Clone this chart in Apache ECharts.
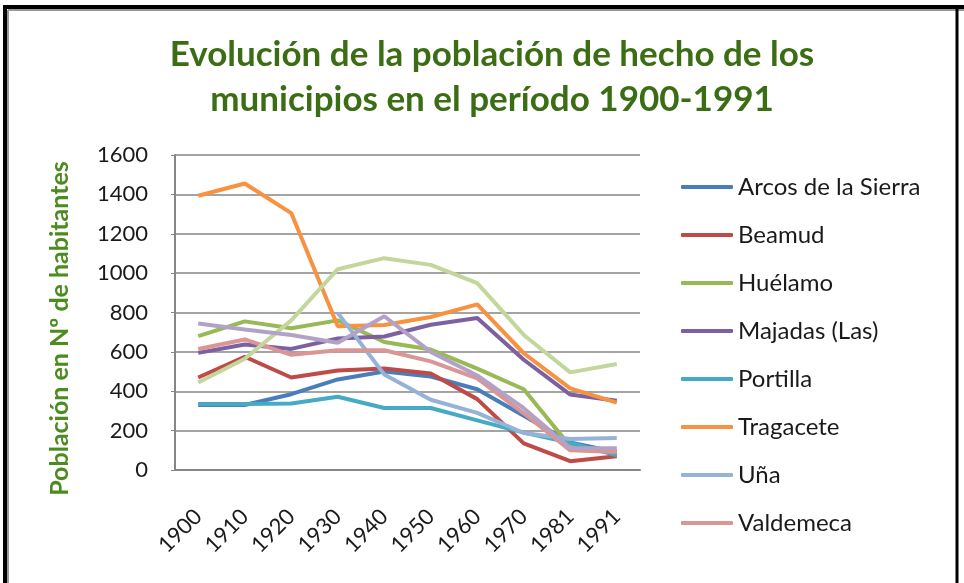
<!DOCTYPE html>
<html>
<head>
<meta charset="utf-8">
<script src="https://cdn.jsdelivr.net/npm/echarts@6.0.0/dist/echarts.min.js"></script>
<style>
  html, body { margin: 0; padding: 0; background: #fff; }
  #chart { width: 964px; height: 583px; }
</style>
</head>
<body>
<div id="chart"></div>
<script>
// años del censo
const years = ['1900', '1910', '1920', '1930', '1940', '1950', '1960', '1970', '1981', '1991'];
const yTicks = [0, 200, 400, 600, 800, 1000, 1200, 1400, 1600];

// población de hecho por municipio
const arcos     = [330, 330, 385, 460, 500, 475, 410, 275, 140, 90];
const beamud    = [470, 575, 470, 505, 515, 490, 360, 135, 45, 70];
const huelamo   = [680, 755, 720, 760, 650, 612, 515, 410, 120, 95];
const majadas   = [595, 637, 615, 668, 678, 738, 772, 560, 383, 352];
const portilla  = [335, 335, 338, 372, 315, 315, 252, 190, 138, 75];
const tragacete = [1393, 1455, 1305, 730, 737, 777, 841, 593, 415, 342];
const una       = [null, null, null, 798, 485, 357, 290, 188, 157, 162];
const valdemeca = [615, 663, 585, 608, 608, 552, 465, 288, 100, 92];
// dos series más que no caben en la leyenda
const serie9    = [444, 565, 760, 1020, 1076, 1042, 949, 686, 496, 538];
const serie10   = [744, 714, 686, 646, 781, 600, 480, 314, 112, 110];

const names = ['Arcos de la Sierra', 'Beamud', 'Huélamo', 'Majadas (Las)', 'Portilla',
               'Tragacete', 'Uña', 'Valdemeca', 'Serie 9', 'Serie 10'];
const values = [arcos, beamud, huelamo, majadas, portilla, tragacete, una, valdemeca, serie9, serie10];
const colors = ['#4A7EBB', '#BE4B48', '#98B954', '#7D60A0', '#46AAC5',
                '#F69240', '#95B3D7', '#D99694', '#C3D69B', '#B3A2C7'];

const font = 'Lato, "Open Sans", sans-serif';
const chart = echarts.init(document.getElementById('chart'));

chart.setOption({
  animation: false,
  color: colors,
  title: {
    text: 'Evolución de la población de hecho de los\nmunicipios en el período 1900-1991',
    left: 487,
    textAlign: 'center',
    top: 27,
    textStyle: { fontFamily: font, fontSize: 35, fontWeight: 'bold', color: '#3B6E14', lineHeight: 45 }
  },
  legend: {
    data: names.slice(0, 8),
    orient: 'vertical',
    left: 681,
    top: 175,
    padding: 0,
    icon: 'roundRect',
    itemWidth: 52,
    itemHeight: 4,
    itemGap: 24,
    textStyle: { fontFamily: font, fontSize: 24, color: '#1a1a1a', lineHeight: 24 }
  },
  grid: { left: 175, right: 324, top: 155, bottom: 113, containLabel: false },
  xAxis: {
    type: 'category',
    data: years,
    boundaryGap: true,
    axisLine: { lineStyle: { color: '#868686', width: 2 } },
    axisTick: { show: false },
    axisLabel: { rotate: 45, margin: 43, fontFamily: font, fontSize: 22, color: '#1a1a1a' }
  },
  yAxis: {
    type: 'value',
    min: yTicks[0],
    max: yTicks[yTicks.length - 1],
    interval: 200,
    name: 'Población en Nº de habitantes',
    nameLocation: 'middle',
    nameRotate: 90,
    nameGap: 103,
    nameTextStyle: { fontFamily: font, fontSize: 25, fontWeight: 'bold', color: '#4C8C1F', padding: [0, 32, 0, 0] },
    axisLine: { show: true, lineStyle: { color: '#868686', width: 2 } },
    axisTick: { show: true, length: 4, lineStyle: { color: '#868686' } },
    axisLabel: { margin: 27, fontFamily: font, fontSize: 22, color: '#1a1a1a', formatter: v => String(v) },
    splitLine: { lineStyle: { color: '#868686', width: 1.5 } }
  },
  series: names.map((n, i) => ({
    name: n,
    type: 'line',
    data: values[i],
    symbol: 'none',
    connectNulls: false,
    lineStyle: { width: 4, color: colors[i] },
    itemStyle: { color: colors[i] }
  })),
  // marco del recorte
  graphic: [
    { type: 'line', shape: { x1: 3, y1: 7, x2: 964, y2: 7 }, style: { stroke: '#000', lineWidth: 4 } },
    { type: 'line', shape: { x1: 5, y1: 5, x2: 5, y2: 583 }, style: { stroke: '#000', lineWidth: 4 } },
    { type: 'line', shape: { x1: 8, y1: 10, x2: 964, y2: 10 }, style: { stroke: '#999', lineWidth: 2 } },
    { type: 'line', shape: { x1: 8, y1: 10, x2: 8, y2: 583 }, style: { stroke: '#999', lineWidth: 2 } },
    { type: 'line', shape: { x1: 957, y1: 5, x2: 957, y2: 583 }, style: { stroke: '#000', lineWidth: 3 } }
  ]
});
</script>
</body>
</html>
